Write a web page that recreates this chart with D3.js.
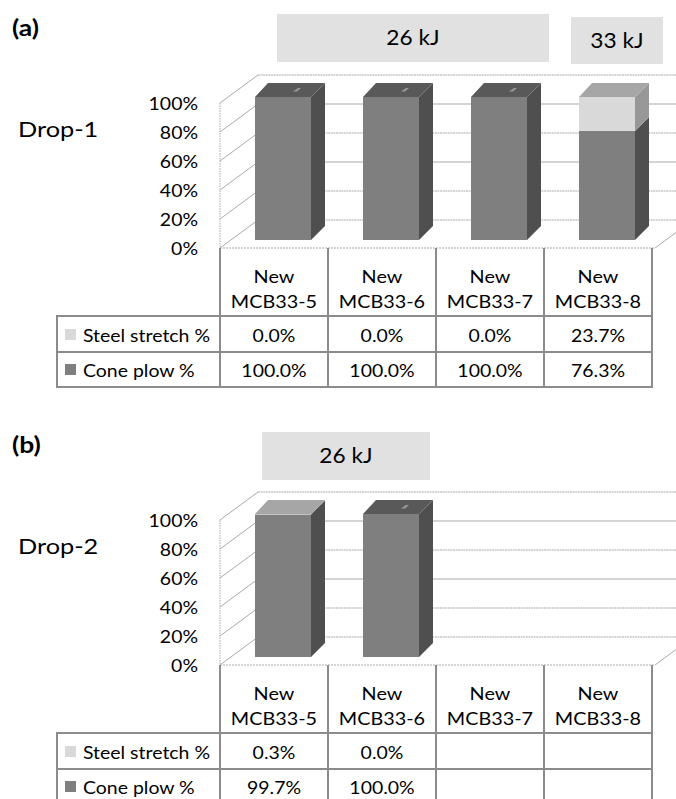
<!DOCTYPE html>
<html>
<head>
<meta charset="utf-8">
<script src="https://cdn.jsdelivr.net/npm/d3@7/dist/d3.min.js"></script>
<style>
  html, body { margin: 0; padding: 0; background: #ffffff; }
  svg { display: block; font-family: Lato, "Open Sans", sans-serif; }
</style>
</head>
<body>
<svg id="chart" width="676" height="799"></svg>
<script>
// ---- data ----
const categories = ["New MCB33-5", "New MCB33-6", "New MCB33-7", "New MCB33-8"];
const seriesNames = ["Steel stretch %", "Cone plow %"];
const drop1Steel = [0.0, 0.0, 0.0, 23.7];
const drop1Cone = [100.0, 100.0, 100.0, 76.3];
const drop2Steel = [0.3, 0.0, null, null];
const drop2Cone = [99.7, 100.0, null, null];
const yTicks = [0, 20, 40, 60, 80, 100];
const drop1Energy = ["26 kJ", "33 kJ"];
const drop2Energy = ["26 kJ"];

// ---- styling ----
const colors = {
  steelFront: "#d9d9d9", steelSide: "#989898", steelTop: "#a6a6a6",
  coneFront: "#7f7f7f", coneSide: "#4f4f4f", coneTop: "#595959",
  grid: "#a9a9a9", border: "#8c8c8c", box: "#e1e1e1"
};

const svg = d3.select("#chart");

const x = d3.scaleBand().domain(categories).range([220, 652]).padding(0);
const yWall = d3.scaleLinear().domain([0, 100]).range([0, 145]);
const yBar = d3.scaleLinear().domain([0, 100]).range([0, 143]);

// 3D wall depth and bar depth offsets
const wallDX = 38, wallDY = 28;
const barDX = 14, barDY = 14;
const barInsetX = 35, barInsetY = 8, barW = 56;

// widen text glyphs horizontally by factor k (text set in a slightly wide face)
function widen(sel, k) {
  sel.each(function () {
    const len = this.getComputedTextLength();
    d3.select(this).attr("textLength", len * k).attr("lengthAdjust", "spacingAndGlyphs");
  });
  return sel;
}

function drawPanel(floorY, panelLabel, dropLabel, steel, cone, energy, energyRects) {
  const g = svg.append("g");
  const F = floorY;
  const backLeft = 220 + wallDX;

  // panel label and drop label
  widen(g.append("text").attr("x", 12).attr("y", F - 212)
    .attr("font-size", 23).attr("font-weight", "bold").text(panelLabel), 1.15);
  widen(g.append("text").attr("x", 18).attr("y", F - 111)
    .attr("font-size", 22).text(dropLabel), 1.15);

  // energy boxes
  energy.forEach((label, i) => {
    const r = energyRects[i];
    g.append("rect").attr("x", r[0]).attr("y", F + r[1]).attr("width", r[2]).attr("height", r[3])
      .attr("fill", colors.box);
    const t = g.append("text").attr("x", r[0] + r[2] / 2).attr("y", F + r[1] + r[3] / 2 + 7)
      .attr("text-anchor", "middle").attr("font-size", 21).text(label);
    widen(t, 1.08);
  });

  // side wall: front vertical edge and diagonal gridlines
  const walls = g.append("g").attr("fill", "none").attr("stroke", colors.grid).attr("stroke-width", 1);
  walls.append("line").attr("x1", 220).attr("x2", 220)
    .attr("y1", F - yWall(100)).attr("y2", F)
    .attr("stroke-dasharray", "1.5 1");
  yTicks.forEach(v => {
    walls.append("line")
      .attr("x1", 220).attr("y1", F - yWall(v))
      .attr("x2", backLeft).attr("y2", F - wallDY - yWall(v));
    // back wall horizontal gridlines
    walls.append("line")
      .attr("x1", backLeft).attr("y1", F - wallDY - yWall(v))
      .attr("x2", 700).attr("y2", F - wallDY - yWall(v))
      .attr("stroke-dasharray", v % 40 === 0 && v !== 0 ? null : "2 0.6");
  });
  // floor edges
  walls.append("line").attr("x1", 220).attr("y1", F).attr("x2", 655).attr("y2", F)
    .attr("stroke-dasharray", "2 1");
  walls.append("line").attr("x1", 655).attr("y1", F).attr("x2", 655 + wallDX).attr("y2", F - wallDY);

  // y tick labels
  widen(g.selectAll(".ytick").data(yTicks).enter().append("text")
    .attr("x", 198).attr("y", v => F - yWall(v) + 6.5)
    .attr("text-anchor", "end").attr("font-size", 18)
    .text(v => v + "%"), 1.08);

  // stacked 3D bars
  const bars = g.append("g");
  categories.forEach((c, i) => {
    if (cone[i] == null) return;
    const x0 = x(c) + barInsetX, x1 = x0 + barW;
    const base = F - barInsetY;
    const segs = [
      { v0: 0, v1: cone[i], front: colors.coneFront, side: colors.coneSide, top: colors.coneTop },
      { v0: cone[i], v1: cone[i] + steel[i], front: colors.steelFront, side: colors.steelSide, top: colors.steelTop }
    ];
    segs.forEach(s => {
      const yb = base - yBar(s.v0), yt = base - yBar(s.v1);
      bars.append("rect").attr("x", x0).attr("y", yt).attr("width", barW).attr("height", yb - yt)
        .attr("fill", s.front);
      bars.append("polygon")
        .attr("points", [[x1, yb], [x1 + barDX, yb - barDY], [x1 + barDX, yt - barDY], [x1, yt]].join(" "))
        .attr("fill", s.side);
    });
    const topSeg = steel[i] > 0 ? segs[1] : segs[0];
    const yt = base - yBar(cone[i] + steel[i]);
    bars.append("polygon")
      .attr("points", [[x0, yt], [x0 + barDX - 1, yt - barDY], [x1 + barDX, yt - barDY], [x1, yt]].join(" "))
      .attr("fill", topSeg.top);
    if (steel[i] === 0) {
      // zero-height steel segment shows as a small light fleck on the top face
      const cx = x0 + barW / 2 + 14, cy = yt - barDY / 2;
      bars.append("polygon")
        .attr("points", [[cx - 4, cy + 1.5], [cx + 1, cy - 2], [cx + 4, cy - 2], [cx, cy + 1.5]].join(" "))
        .attr("fill", "#9a9a9a");
    }
  });

  // data table
  const tbl = g.append("g");
  const rowTop = [F + 68, F + 104, F + 139];
  const lines = tbl.append("g").attr("stroke", colors.border).attr("stroke-width", 2);
  [220, ...categories.map(c => x(c) + x.bandwidth())].forEach(xx => {
    lines.append("line").attr("x1", xx).attr("x2", xx).attr("y1", F).attr("y2", F + 139);
  });
  lines.append("line").attr("x1", 57).attr("x2", 57).attr("y1", F + 68).attr("y2", F + 139);
  rowTop.forEach(yy => {
    lines.append("line").attr("x1", 56).attr("x2", 653).attr("y1", yy).attr("y2", yy);
  });

  // category headers
  categories.forEach(c => {
    const parts = c.split(" ");
    const cx = x(c) + x.bandwidth() / 2;
    widen(tbl.append("text").attr("x", cx).attr("y", F + 35).attr("text-anchor", "middle")
      .attr("font-size", 18).text(parts[0]), 1.1);
    widen(tbl.append("text").attr("x", cx).attr("y", F + 60).attr("text-anchor", "middle")
      .attr("font-size", 18).text(parts[1]), 1.1);
  });

  // legend rows with values
  const rows = [
    { name: seriesNames[0], vals: steel, color: colors.steelFront, y: F + 87 },
    { name: seriesNames[1], vals: cone, color: colors.coneFront, y: F + 122 }
  ];
  rows.forEach(r => {
    tbl.append("rect").attr("x", 65).attr("y", r.y - 6).attr("width", 11).attr("height", 11)
      .attr("fill", r.color);
    widen(tbl.append("text").attr("x", 83).attr("y", r.y + 6.5).attr("font-size", 18).text(r.name), 1.08);
    categories.forEach((c, i) => {
      if (r.vals[i] == null) return;
      widen(tbl.append("text").attr("x", x(c) + x.bandwidth() / 2).attr("y", r.y + 6.5)
        .attr("text-anchor", "middle").attr("font-size", 18)
        .text(d3.format(".1f")(r.vals[i]) + "%"), 1.08);
    });
  });
}

drawPanel(248, "(a)", "Drop-1", drop1Steel, drop1Cone, drop1Energy,
  [[277, -234, 272, 48], [571, -231, 92, 47]]);
drawPanel(665, "(b)", "Drop-2", drop2Steel, drop2Cone, drop2Energy,
  [[262, -233, 168, 48]]);
</script>
</body>
</html>
